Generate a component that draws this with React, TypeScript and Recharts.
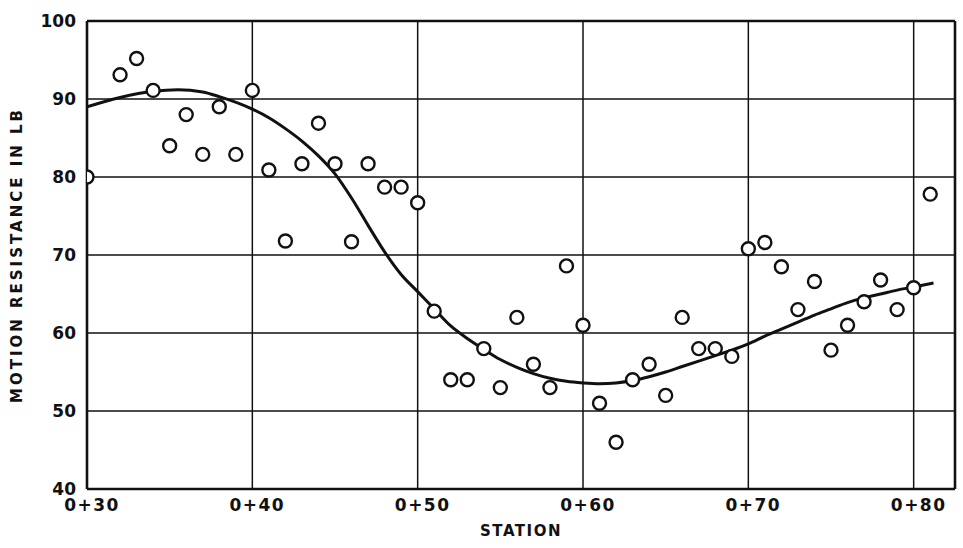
import React from 'react';
import {
  ComposedChart,
  Scatter,
  Line,
  XAxis,
  YAxis,
  CartesianGrid,
  ReferenceLine,
  Label
} from 'recharts';

// measured stations (0+30 .. 0+81), 0+31 has no reading
const stations = [
  30, 32, 33, 34, 35, 36, 37, 38, 39, 40,
  41, 42, 43, 44, 45, 46, 47, 48, 49, 50,
  51, 52, 53, 54, 55, 56, 57, 58, 59, 60,
  61, 62, 63, 64, 65, 66, 67, 68, 69, 70,
  71, 72, 73, 74, 75, 76, 77, 78, 79, 80, 81
];
const resistance = [
  80.0, 93.1, 95.2, 91.1, 84.0, 88.0, 82.9, 89.0, 82.9, 91.1,
  80.9, 71.8, 81.7, 86.9, 81.7, 71.7, 81.7, 78.7, 78.7, 76.7,
  62.8, 54.0, 54.0, 58.0, 53.0, 62.0, 56.0, 53.0, 68.6, 61.0,
  51.0, 46.0, 54.0, 56.0, 52.0, 62.0, 58.0, 58.0, 57.0, 70.8,
  71.6, 68.5, 63.0, 66.6, 57.8, 61.0, 64.0, 66.8, 63.0, 65.8, 77.8
];

// hand-faired trend curve
const curveStations = [
  30, 32, 34, 35.5, 37, 38, 40, 41, 42, 43, 44, 45, 46, 47, 48, 49, 50,
  51, 52, 53, 54, 55, 56, 57, 58, 59, 60, 61, 62, 63, 64, 65, 66, 67,
  68, 69, 70, 71, 72, 73, 74, 75, 76, 77, 78, 79, 80, 81.2
];
const curveValues = [
  89.0, 90.2, 91.0, 91.2, 90.9, 90.3, 88.7, 87.6, 86.2, 84.6, 82.7, 80.4, 77.3, 73.8, 70.4, 67.5, 65.3,
  63.1, 60.9, 59.3, 57.9, 56.6, 55.6, 54.8, 54.2, 53.8, 53.6, 53.5, 53.6, 53.9, 54.4, 55.0, 55.7, 56.4,
  57.1, 57.8, 58.6, 59.6, 60.5, 61.4, 62.3, 63.1, 63.9, 64.5, 65.0, 65.5, 65.9, 66.4
];

const xTicks = [30, 40, 50, 60, 70, 80];
const yTicks = [40, 50, 60, 70, 80, 90, 100];

const points = stations.map((s, i) => ({ x: s, y: resistance[i] }));
const curve = curveStations.map((s, i) => ({ x: s, y: curveValues[i] }));

const FONT = '"DejaVu Sans", Verdana, sans-serif';
const tickStyle = { fontFamily: FONT, fontSize: 17, fontWeight: 700, fill: '#111' };

const OpenCircle = (props: any) => {
  const { cx, cy } = props;
  if (cx == null || cy == null) return null;
  return <circle cx={cx} cy={cy} r={6.5} fill="#fff" stroke="#111" strokeWidth={2.4} />;
};

export default function App() {
  return (
    <div style={{ position: 'absolute', left: 0, top: 0, background: '#fff' }}>
      <ComposedChart
        width={963}
        height={548}
        margin={{ top: 21, right: 8, left: 0, bottom: 0 }}
      >
        <CartesianGrid stroke="#111" strokeWidth={1.5} horizontalValues={yTicks} verticalValues={xTicks} />
        <XAxis
          type="number"
          dataKey="x"
          domain={[30, 82.5]}
          ticks={xTicks}
          allowDataOverflow
          height={59}
          tickLine={false}
          axisLine={{ stroke: '#111', strokeWidth: 2.6 }}
          tickFormatter={(v: number) => `0+${v}`}
          tick={{ ...tickStyle, dx: 5, letterSpacing: 1.5 }}
          tickMargin={4}
        >
          <Label
            value="STATION"
            position="insideBottom"
            offset={12}
            style={{ fontFamily: FONT, fontSize: 15, fontWeight: 700, fill: '#111', letterSpacing: 1.5 }}
          />
        </XAxis>
        <YAxis
          type="number"
          dataKey="y"
          domain={[40, 100]}
          ticks={yTicks}
          width={87}
          tickLine={false}
          axisLine={{ stroke: '#111', strokeWidth: 2.6 }}
          tick={tickStyle}
          tickMargin={5}
        >
          <Label
            value="MOTION RESISTANCE IN LB"
            angle={-90}
            position="insideLeft"
            offset={17}
            style={{ textAnchor: 'middle', fontFamily: FONT, fontSize: 15, fontWeight: 700, fill: '#111', letterSpacing: 3 }}
          />
        </YAxis>
        <ReferenceLine y={100} stroke="#111" strokeWidth={2.6} />
        <ReferenceLine x={82.5} stroke="#111" strokeWidth={2.6} />
        <Line
          data={curve}
          dataKey="y"
          type="monotone"
          stroke="#111"
          strokeWidth={3}
          dot={false}
          activeDot={false}
          isAnimationActive={false}
        />
        <Scatter data={points} dataKey="y" shape={OpenCircle} isAnimationActive={false} />
      </ComposedChart>
    </div>
  );
}
